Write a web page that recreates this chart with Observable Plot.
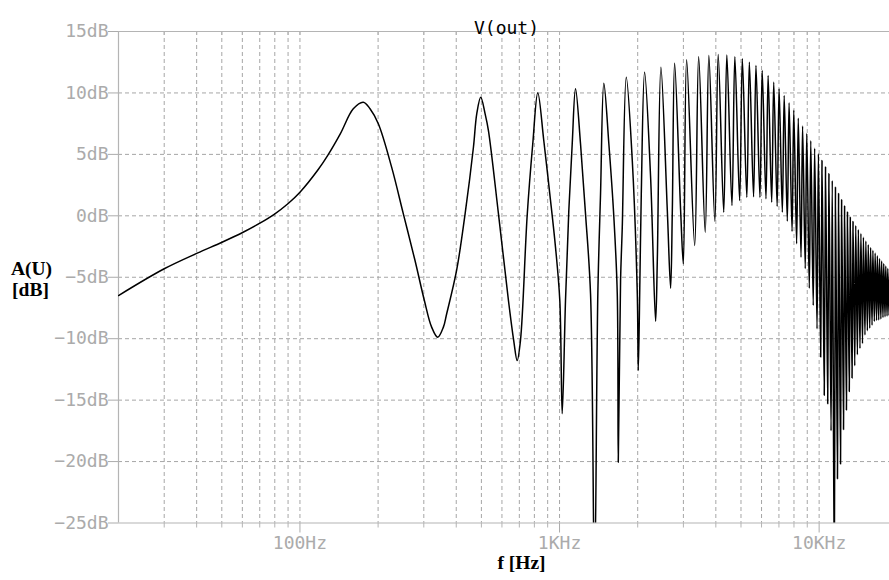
<!DOCTYPE html>
<html><head><meta charset="utf-8">
<script src="https://cdn.jsdelivr.net/npm/d3@7"></script>
<script src="https://cdn.jsdelivr.net/npm/@observablehq/plot@0.6"></script>
<style>html,body{margin:0;padding:0;background:#fff;overflow:hidden}#chart svg{display:block}</style>
</head><body><div id="chart"></div>
<script>
// Traced points, 20 Hz .. 3.3 kHz
const lowFreq = [20, 30.0, 40.2, 50.1, 60.4, 70.1, 79.6, 90.1, 100, 117.6, 127.8, 143.0, 160.5, 175.4, 186.2, 200.4, 225.5, 250.2, 277.5, 301.5, 321.6, 339.3, 356.9, 367.5, 401.6, 432.7, 465.9, 479.8, 497.1, 516.8, 532.2, 581.7, 635.6, 666, 686.7, 707.1, 750.5, 788.6, 824.5, 869.5, 917.1, 964.7, 1002.3, 1023.9, 1054.3, 1085.7, 1119, 1152.2, 1204.5, 1259.2, 1316.4, 1363.9, 1404.5, 1438.6, 1481.4, 1548.6, 1618.9, 1668.6, 1683.4, 1718.2, 1744.3, 1807.4, 1906.3, 1992.9, 2010.7, 2039.4, 2064.9, 2126.4, 2242.7, 2344.5, 2380.1, 2457.4, 2601.2, 2678.5, 2719.2, 2775.3, 2927.2, 2998.2, 3087.4, 3315.5];
const lowDb = [-6.49, -4.31, -3.04, -2.15, -1.34, -0.6, 0.12, 1.0, 1.92, 3.77, 4.9, 6.67, 8.71, 9.25, 8.71, 7.49, 3.96, 0.16, -3.64, -6.89, -9.06, -9.88, -9.06, -7.97, -4.4, 0.16, 5.58, 8.3, 9.65, 8.3, 6.94, 0.16, -6.89, -10.15, -11.78, -10.15, 0.03, 5.86, 10.01, 6.13, 1.79, -2.55, -6.89, -16.11, -6.89, 0.43, 5.86, 10.34, 5.86, 0.16, -6.35, -30, -6.35, 1.79, 10.79, 5.86, -0.11, -6.35, -20.05, -5.26, -0.93, 11.28, 4.5, -6.35, -12.59, -5.26, 1.79, 11.69, 3.14, -8.58, -3.64, 12.09, 0.43, -5.89, 0.43, 12.42, 0.43, -3.91, 12.7, -2.42];
// Comb peaks from 3.4 kHz upward
const peakFreq = [3435, 3760, 4085, 4410, 4735, 5060, 5385, 5710, 6035, 6360, 6685, 7010, 7335, 7660, 7985, 8310, 8635, 8960, 9285, 9610, 9935, 10260, 10585, 10910, 11235, 11560, 11885, 12210, 12535, 12860, 13185, 13510, 13835, 14160, 14485, 14810, 15135, 15460, 15785, 16110, 16435, 16760, 17085, 17410, 17735, 18060, 18385, 18710, 19035];
const peakDb = [12.94, 13.05, 13.12, 13.08, 12.94, 12.78, 12.5, 12.23, 11.83, 11.42, 10.88, 10.34, 9.79, 9.2, 8.6, 7.95, 7.3, 6.7, 6.1, 5.5, 5.05, 4.5, 3.97, 3.43, 2.87, 2.33, 1.81, 1.3, 0.8, 0.32, -0.12, -0.46, -0.79, -1.12, -1.44, -1.75, -2.06, -2.35, -2.58, -2.81, -3.03, -3.25, -3.47, -3.68, -3.89, -4.09, -4.29, -4.49, -4.68];
// Comb notches from 3.6 kHz upward
const notchFreq = [3640, 3965, 4290, 4615, 4940, 5265, 5590, 5915, 6240, 6565, 6890, 7215, 7540, 7865, 8190, 8515, 8840, 9165, 9490, 9815, 10140, 10465, 10790, 11115, 11440, 11765, 12090, 12415, 12740, 13065, 13390, 13715, 14040, 14365, 14690, 15015, 15340, 15665, 15990, 16315, 16640, 16965, 17290, 17615, 17940, 18265, 18590, 18915];
const notchDb = [-1.33, -0.44, 0.29, 0.84, 1.25, 1.5, 1.55, 1.5, 1.39, 1.11, 0.76, 0.29, -0.44, -1.28, -2.28, -3.37, -4.3, -5.9, -7.3, -9.2, -11.5, -14.6, -15.3, -17.5, -30, -21.4, -20.2, -17.4, -15.8, -14.3, -13.2, -12.2, -11.3, -10.8, -10.4, -9.7, -9.35, -9.15, -8.9, -8.6, -8.52, -8.48, -8.4, -8.28, -8.22, -8.16, -8.11, -8.05];

const yTicks = [15, 10, 5, 0, -5, -10, -15, -20, -25];
const yTickLabels = ["15dB", "10dB", "5dB", "0dB", "\u22125dB", "\u221210dB", "\u221215dB", "\u221220dB", "\u221225dB"];
const yGrid = [10, 5, 0, -5, -10, -15, -20];
const xMajor = [100, 1000, 10000];
const xMajorLabels = ["100Hz", "1KHz", "10KHz"];
const xGrid = [30, 40, 50, 60, 70, 80, 90, 100, 200, 300, 400, 500, 600, 700, 800, 900, 1000, 2000, 3000, 4000, 5000, 6000, 7000, 8000, 9000, 10000];
const xMinor = xGrid.filter(v => !xMajor.includes(v));

const pts = [];
lowFreq.forEach((f, i) => pts.push({f, db: lowDb[i]}));
peakFreq.forEach((f, i) => pts.push({f, db: peakDb[i]}));
notchFreq.forEach((f, i) => pts.push({f, db: notchDb[i]}));
pts.sort((a, b) => a.f - b.f);

const frameTop = 31, frameBottom = 522.5;
const dbPerPx = 40 / (frameBottom - frameTop);
const axisGray = "#b4b4b4";
const gridGray = "#a6a6a6";
const mono = "DejaVu Sans Mono";
const serif = "Liberation Serif";

const chart = Plot.plot({
  width: 889, height: 580,
  marginTop: frameTop, marginBottom: 580 - frameBottom, marginLeft: 118, marginRight: 0,
  style: {fontFamily: mono, fontSize: "18px", color: "#ababab", background: "#fff"},
  x: {type: "log", domain: [20, 18666], ticks: xMajor, tickFormat: d => xMajorLabels[xMajor.indexOf(d)], tickSize: 10, tickPadding: 3, label: null},
  y: {domain: [-25, 15], ticks: yTicks, tickFormat: d => yTickLabels[yTicks.indexOf(d)], tickSize: 10, tickPadding: 0, label: null},
  marks: [
    Plot.ruleY(yGrid, {stroke: gridGray, strokeDasharray: "4,3", strokeWidth: 1}),
    Plot.ruleX(xGrid, {stroke: gridGray, strokeDasharray: "4,3", strokeWidth: 1}),
    Plot.ruleY([15, -25], {stroke: axisGray, strokeWidth: 1.2}),
    Plot.ruleX([20], {stroke: axisGray, strokeWidth: 1.2}),
    Plot.ruleX(xGrid, {y1: 15, y2: 15 - 4 * dbPerPx, stroke: axisGray}),
    Plot.ruleX(xMinor, {y1: -25, y2: -25 - 5 * dbPerPx, stroke: axisGray}),
    Plot.line(pts, {x: "f", y: "db", curve: "catmull-rom", stroke: "black", strokeWidth: 1.5, clip: true}),
    Plot.text(["V(out)"], {frameAnchor: "top", text: d => d, dy: -10.1, dx: 2.5, fill: "black", fontFamily: mono, fontSize: 18}),
    Plot.text(["A(U)"], {frameAnchor: "left", text: d => d, dx: -87, dy: -8.5, textAnchor: "middle", fill: "black", fontFamily: serif, fontWeight: "bold", fontSize: 19.5}),
    Plot.text(["[dB]"], {frameAnchor: "left", text: d => d, dx: -88, dy: 12, textAnchor: "middle", fill: "black", fontFamily: serif, fontWeight: "bold", fontSize: 19.5}),
    Plot.text(["f [Hz]"], {frameAnchor: "bottom", text: d => d, dx: 17.5, dy: 46.3, textAnchor: "middle", fill: "black", fontFamily: serif, fontWeight: "bold", fontSize: 19.5})
  ]
});
document.getElementById("chart").appendChild(chart);
</script>
</body></html>
